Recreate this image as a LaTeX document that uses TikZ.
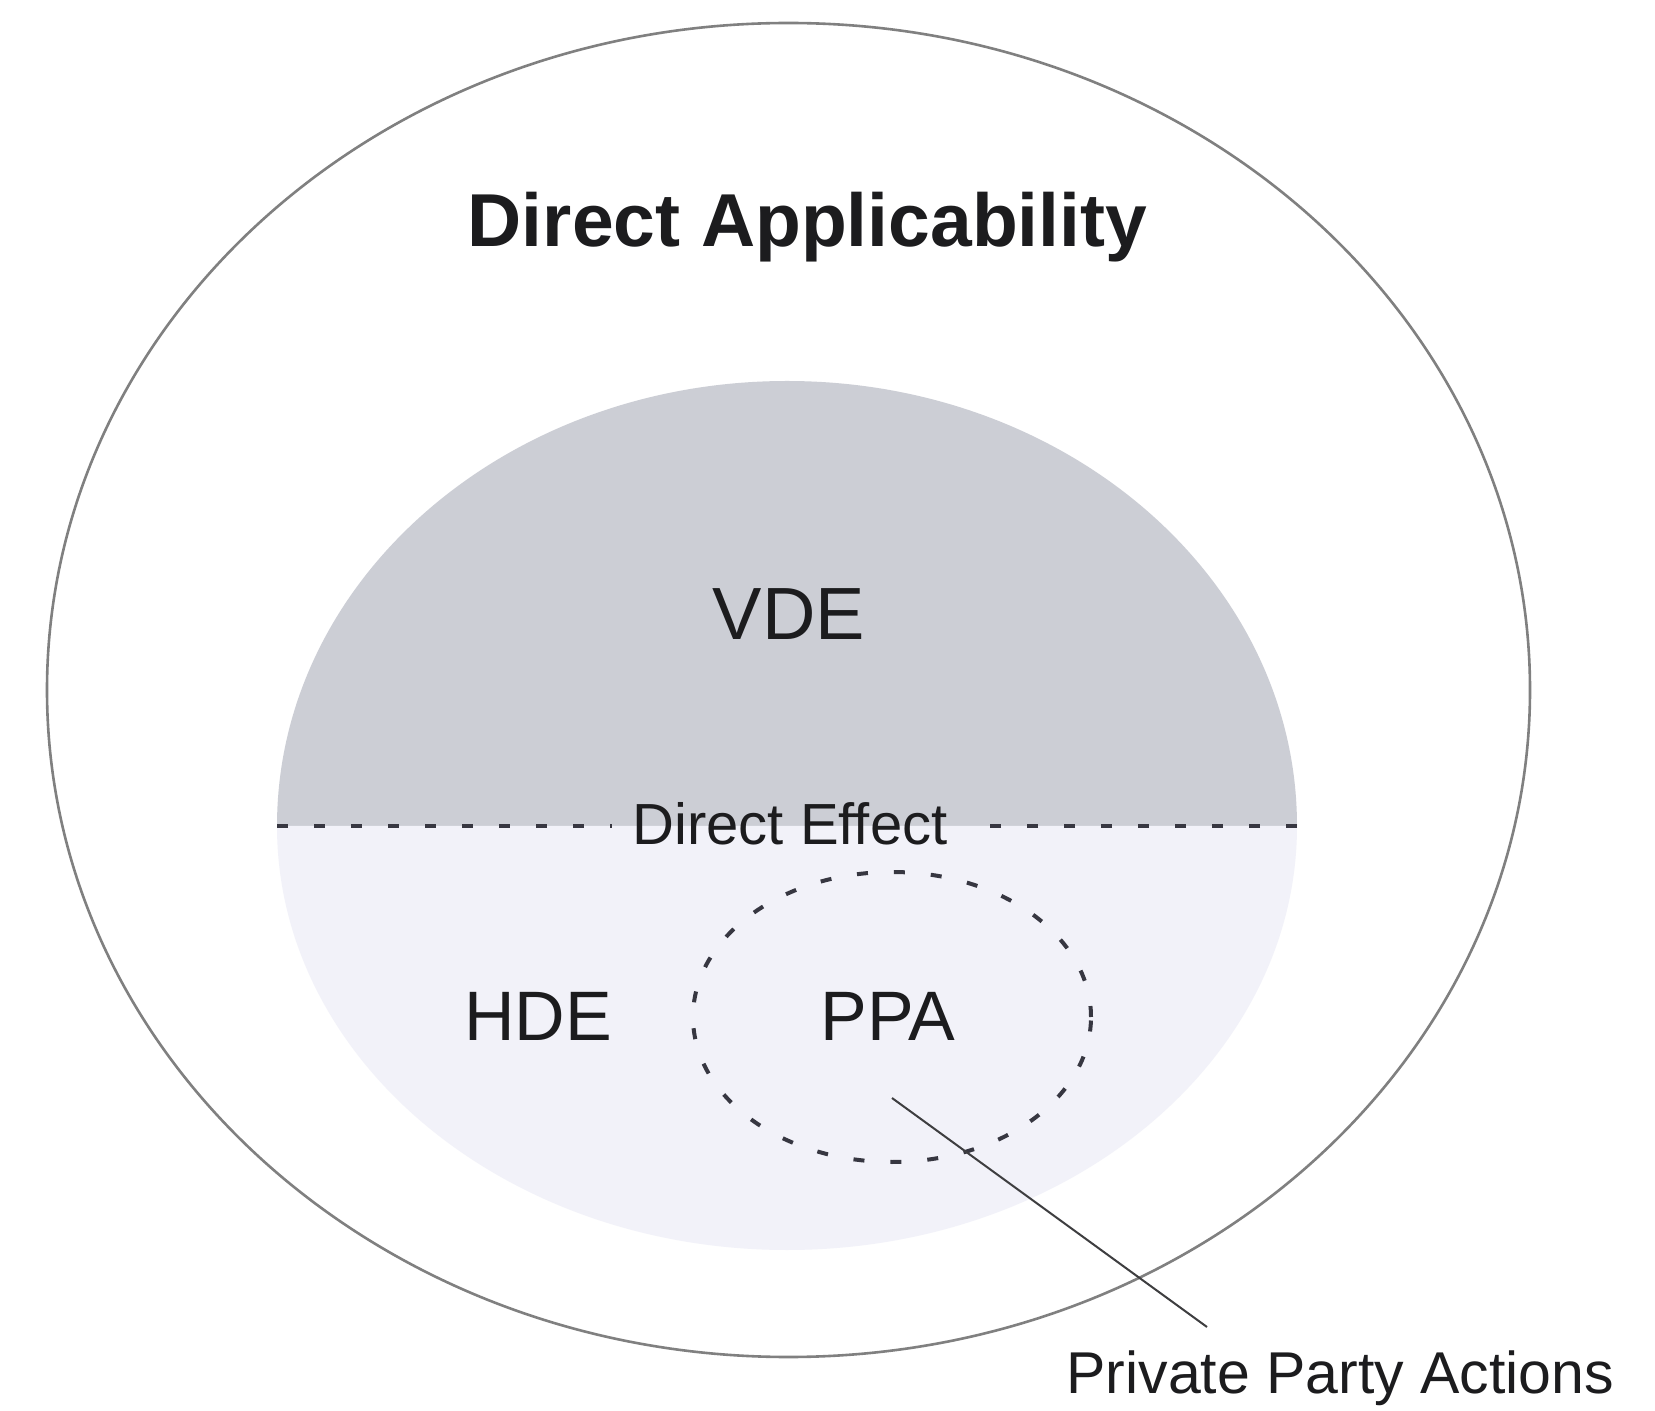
\documentclass[tikz,border=0pt]{standalone}
\usepackage{fontspec}
\setmainfont{Liberation Sans}
\definecolor{vdegray}{RGB}{204,206,213}
\definecolor{hdelav}{RGB}{242,242,249}
\definecolor{rimgray}{RGB}{128,128,128}
\definecolor{dashink}{RGB}{55,55,65}
\definecolor{inkblack}{RGB}{28,28,30}
\begin{document}
\begin{tikzpicture}[x=0.5pt,y=0.5pt,
  rim/.style={draw=rimgray, line width=1.3pt},
  dashline/.style={draw=dashink, line width=2pt, dash pattern=on 5.5pt off 13pt},
  leader/.style={draw=inkblack!85, line width=1pt},
  lbl/.style={inner sep=0pt, anchor=base, text=inkblack}]
\useasboundingbox (0,0) rectangle (1655,1410);
\fill[white] (0,0) rectangle (1655,1410);
% inner shaded ellipse: upper (VDE) and lower (HDE) halves
\fill[vdegray] (277,584) arc[start angle=180,end angle=0,x radius=255pt,y radius=222.5pt] -- cycle;
\fill[hdelav] (277,584) arc[start angle=180,end angle=360,x radius=255pt,y radius=212pt] -- cycle;
% outer ellipse
\draw[rim] (788.5,720) ellipse[x radius=370.75pt, y radius=333.5pt];
% PPA dashed circle
\draw[dashline] (892,393) ellipse[x radius=99.5pt, y radius=72.5pt];
% texts
\node[lbl, font=\fontsize{37.5}{40}\selectfont\bfseries] (da) at (807.5,1163) {Direct Applicability};
\node[lbl, font=\fontsize{37}{40}\selectfont] (vde) at (789,770) {VDE};
\node[lbl, font=\fontsize{29}{32}\selectfont] (de) at (790,565) {Direct Effect};
\node[lbl, font=\fontsize{35}{38}\selectfont] (hde) at (538,370) {HDE};
\node[lbl, font=\fontsize{35}{38}\selectfont] (ppa) at (888,370) {PPA};
\node[lbl, anchor=base west, font=\fontsize{29.5}{32}\selectfont] (pparty) at (1066,17) {Private Party Actions};
% direct effect dotted divider
\coordinate (dl1) at (277,584);
\coordinate (dl2) at (612,584);
\coordinate (dr1) at (968,584);
\coordinate (dr2) at (1297,584);
\draw[dashline] (dl1) -- (dl2);
\draw[dashline] (dr2) -- (dr1);
% leader line
\coordinate (lstart) at (892,312);
\coordinate (lend) at (1207,83);
\draw[leader] (lstart) -- (lend);
\end{tikzpicture}
\end{document}
